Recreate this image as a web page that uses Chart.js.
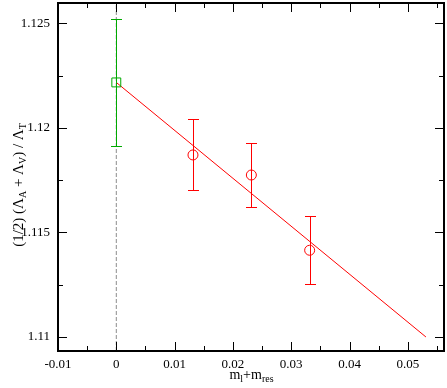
<!DOCTYPE html>
<html>
<head>
<meta charset="utf-8">
<script src="https://cdn.jsdelivr.net/npm/chart.js@4/dist/chart.umd.min.js"></script>
<style>
html,body{margin:0;padding:0;background:#fff;}
#wrap{width:447px;height:388px;position:relative;}
</style>
</head>
<body>
<div id="wrap"><canvas id="c" width="447" height="388"></canvas></div>
<script>
// ---- data ----
const xMajorTicks = [-0.01, 0, 0.01, 0.02, 0.03, 0.04, 0.05];
const xTickLabels = ["-0.01", "0", "0.01", "0.02", "0.03", "0.04", "0.05"];
const yMajorTicks = [1.11, 1.115, 1.12, 1.125];
const yTickLabels = ["1.11", "1.115", "1.12", "1.125"];
const xMinorStep = 0.005;
const yMinorStep = 0.0025;

const chiralX = [0];
const chiralY = [1.12218];
const chiralErr = [0.00305];

const dataX = [0.01315, 0.02316, 0.03316];
const dataY = [1.11871, 1.11775, 1.11415];
const dataErr = [0.00170, 0.00155, 0.00162];

const fitX = [0, 0.0531];
const fitY = [1.12218, 1.11000];

const refX = [0];

const xRange = [-0.01, 0.0562];
const yRange = [1.10933, 1.12598];

const RED = "rgb(255,0,0)";
const GREEN = "rgb(0,170,0)";
const SERIF = '"Liberation Serif"';

// ---- plugins ----
const errorBars = {
  id: 'errorBars',
  afterDatasetDraw(chart, args) {
    const ds = chart.data.datasets[args.index];
    if (!ds.errors) return;
    const ctx = chart.ctx, xs = chart.scales.x, ys = chart.scales.y;
    ctx.save();
    ctx.strokeStyle = ds.errColor;
    ctx.lineWidth = 1;
    ctx.setLineDash([]);
    ds.data.forEach((p, i) => {
      const e = ds.errors[i];
      const px = Math.round(xs.getPixelForValue(p.x)) + 0.5;
      const top = Math.round(ys.getPixelForValue(p.y + e)) + 0.5;
      const bot = Math.round(ys.getPixelForValue(p.y - e)) + 0.5;
      const hw = 5.5;
      ctx.beginPath();
      ctx.moveTo(px, top); ctx.lineTo(px, bot);
      ctx.moveTo(px - hw, top); ctx.lineTo(px + hw, top);
      ctx.moveTo(px - hw, bot); ctx.lineTo(px + hw, bot);
      ctx.stroke();
    });
    ctx.restore();
  }
};

const frameTicks = {
  id: 'frameTicks',
  afterDraw(chart) {
    const ctx = chart.ctx, a = chart.chartArea, xs = chart.scales.x, ys = chart.scales.y;
    ctx.save();
    ctx.strokeStyle = '#000';
    ctx.lineWidth = 1;
    const major = 9, minor = 5;
    for (let k = Math.ceil(xRange[0] / xMinorStep - 1e-6); k * xMinorStep <= xRange[1] + 1e-9; k++) {
      const v = k * xMinorStep;
      const isMajor = xMajorTicks.some(t => Math.abs(t - v) < 1e-9);
      const px = Math.round(xs.getPixelForValue(v)) + 0.5;
      const L = isMajor ? major : minor;
      ctx.beginPath();
      ctx.moveTo(px, a.bottom); ctx.lineTo(px, a.bottom - L);
      ctx.moveTo(px, a.top); ctx.lineTo(px, a.top + L);
      ctx.stroke();
    }
    for (let k = Math.ceil(yRange[0] / yMinorStep - 1e-6); k * yMinorStep <= yRange[1] + 1e-9; k++) {
      const v = k * yMinorStep;
      const isMajor = yMajorTicks.some(t => Math.abs(t - v) < 1e-9);
      const py = Math.round(ys.getPixelForValue(v)) + 0.5;
      const L = isMajor ? major : minor;
      ctx.beginPath();
      ctx.moveTo(a.left, py); ctx.lineTo(a.left + L, py);
      ctx.moveTo(a.right, py); ctx.lineTo(a.right - L, py);
      ctx.stroke();
    }
    ctx.lineWidth = 2;
    ctx.strokeRect(a.left, a.top, a.right - a.left, a.bottom - a.top);

    // tick labels
    ctx.fillStyle = '#000';
    ctx.font = '13px ' + SERIF;
    ctx.textAlign = 'center';
    ctx.textBaseline = 'middle';
    xs.ticks.forEach((t, i) => {
      ctx.fillText(xTickLabels[i], xs.getPixelForValue(t.value), a.bottom + 14);
    });
    ctx.textAlign = 'right';
    ys.ticks.forEach((t, i) => {
      ctx.fillText(yTickLabels[i], a.left - 8, ys.getPixelForValue(t.value));
    });

    // axis titles with subscripts
    function drawRuns(runs, x, y, big, small) {
      let w = 0;
      runs.forEach(r => { ctx.font = (r.sub ? small : big) + 'px ' + SERIF; w += ctx.measureText(r.t).width; });
      let cx = x - w / 2;
      runs.forEach(r => {
        ctx.font = (r.sub ? small : big) + 'px ' + SERIF;
        ctx.fillText(r.t, cx, y + (r.sub ? 3 : 0));
        cx += ctx.measureText(r.t).width;
      });
    }
    ctx.textBaseline = 'alphabetic';
    ctx.textAlign = 'left';
    drawRuns([{t:'m'},{t:'l',sub:true},{t:'+m'},{t:'res',sub:true}], 251.5, 379, 14, 10);
    ctx.save();
    ctx.translate(23, 185);
    ctx.rotate(-Math.PI / 2);
    drawRuns([{t:'(1/2) (Λ'},{t:'A',sub:true},{t:' + Λ'},{t:'V',sub:true},{t:') / Λ'},{t:'T',sub:true}], 0, 0, 15, 10);
    ctx.restore();
    ctx.restore();
  }
};

const pts = (xs, ys) => xs.map((x, i) => ({x, y: ys[i]}));
const noPad = s => { s.paddingLeft = 0; s.paddingRight = 0; s.paddingTop = 0; s.paddingBottom = 0; };

new Chart(document.getElementById('c'), {
  type: 'scatter',
  data: {
    datasets: [
      {
        type: 'line',
        data: [{x: refX[0], y: yRange[0]}, {x: refX[0], y: yRange[1]}],
        borderColor: 'rgb(140,140,140)',
        borderWidth: 1,
        borderDash: [4, 2],
        pointRadius: 0,
        order: 5
      },
      {
        type: 'line',
        data: pts(fitX, fitY),
        borderColor: RED,
        borderWidth: 1,
        pointRadius: 0,
        order: 4
      },
      {
        data: pts(chiralX, chiralY),
        errors: chiralErr,
        errColor: GREEN,
        borderColor: GREEN,
        backgroundColor: 'rgba(0,0,0,0)',
        pointStyle: 'rect',
        pointRadius: 6.3,
        pointBorderWidth: 1,
        order: 3
      },
      {
        data: pts(dataX, dataY),
        errors: dataErr,
        errColor: RED,
        borderColor: RED,
        backgroundColor: 'rgba(0,0,0,0)',
        pointStyle: 'circle',
        pointRadius: 5,
        pointBorderWidth: 1,
        order: 2
      }
    ]
  },
  options: {
    responsive: false,
    animation: false,
    events: [],
    layout: {autoPadding: false, padding: {top: 3, right: 3, left: 0, bottom: 0}},
    plugins: {legend: {display: false}, tooltip: {enabled: false}},
    scales: {
      x: {
        type: 'linear',
        min: xRange[0], max: xRange[1],
        grid: {display: false, drawTicks: false},
        border: {display: false},
        afterBuildTicks: s => { s.ticks = xMajorTicks.map(v => ({value: v})); },
        afterFit: s => { s.height = 37; noPad(s); },
        ticks: {display: false, autoSkip: false, maxRotation: 0, callback: (v, i) => xTickLabels[i]}
      },
      y: {
        type: 'linear',
        min: yRange[0], max: yRange[1],
        grid: {display: false, drawTicks: false},
        border: {display: false},
        afterBuildTicks: s => { s.ticks = yMajorTicks.map(v => ({value: v})); },
        afterFit: s => { s.width = 58; noPad(s); },
        ticks: {display: false, autoSkip: false, callback: (v, i) => yTickLabels[i]}
      }
    }
  },
  plugins: [errorBars, frameTicks]
});
</script>
</body>
</html>
